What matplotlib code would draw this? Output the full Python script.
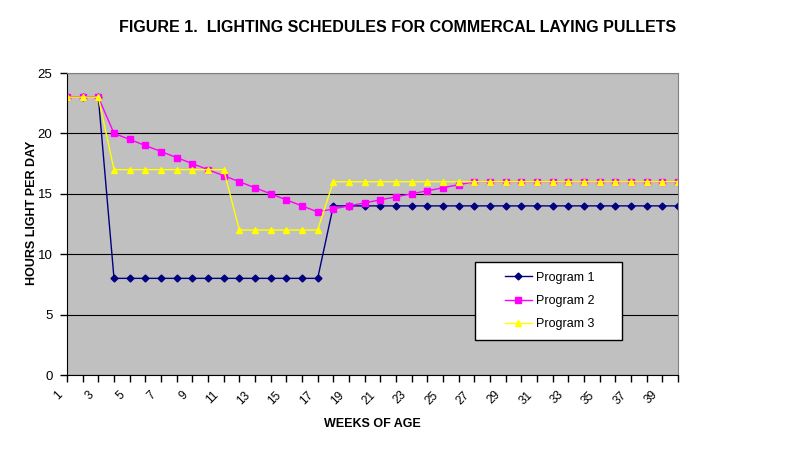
import matplotlib
matplotlib.use("Agg")
import matplotlib.pyplot as plt
import matplotlib.transforms as mtransforms
from matplotlib.patches import Rectangle

weeks = list(range(1, 41))
program1 = [23, 23, 23] + [8] * 14 + [14] * 23
program2 = [23, 23, 23, 20, 19.5, 19, 18.5, 18, 17.5, 17, 16.5, 16, 15.5, 15, 14.5, 14, 13.5,
            13.75, 14, 14.25, 14.5, 14.75, 15, 15.25, 15.5, 15.75] + [16] * 14
program3 = [23, 23, 23] + [17] * 8 + [12] * 6 + [16] * 23
tick_labels = [str(w) if w % 2 == 1 else '' for w in weeks]

plt.rcParams['font.family'] = ['Liberation Sans', 'DejaVu Sans']

fig = plt.figure(figsize=(7.96, 4.51), dpi=100)
ax = fig.add_axes([67/796, 1-375/451, 611/796, 302/451])
ax.set_facecolor('#C0C0C0')

ax.plot(weeks, program1, color='#000080', marker='D', markersize=3.5, lw=1, label='Program 1')
ax.plot(weeks, program2, color='#FF00FF', marker='s', markersize=4.5, lw=1, label='Program 2')
ax.plot(weeks, program3, color='#FFFF00', marker='^', markersize=5, lw=1, label='Program 3')

ax.set_xlim(1, 40)
ax.set_ylim(0, 25)
ax.set_yticks([0, 5, 10, 15, 20, 25])
ax.yaxis.grid(True, color='black', lw=0.8)
ax.set_axisbelow(True)
ax.set_xticks(weeks)
ax.tick_params(axis='x', direction='out', length=5, width=1, pad=5)
ax.tick_params(axis='y', direction='out', length=5, width=1, labelsize=9.5, pad=5.5)
ax.set_xticklabels(tick_labels, rotation=45, ha='right', va='top',
                   rotation_mode='anchor', fontsize=8.5)
offset = mtransforms.ScaledTranslation(-11/100, 0, fig.dpi_scale_trans)
for lbl in ax.get_xticklabels():
    lbl.set_transform(lbl.get_transform() + offset)
for s in ['top', 'right']:
    ax.spines[s].set_color('#808080')
for s in ['left', 'bottom']:
    ax.spines[s].set_color('black')

ax.set_ylabel('HOURS LIGHT PER DAY', fontsize=9, fontweight='bold')
ax.yaxis.set_label_coords(-0.048, 0.536)
ax.set_xlabel('WEEKS OF AGE', fontsize=9, fontweight='bold', labelpad=8)
fig.text(398/796, 1-28/451, 'FIGURE 1.  LIGHTING SCHEDULES FOR COMMERCAL LAYING PULLETS',
         ha='center', va='center', fontsize=11.5, fontweight='bold')

box = Rectangle((0.668, 0.116), 0.24, 0.258, transform=ax.transAxes, facecolor='white',
                edgecolor='black', lw=1, zorder=4)
ax.add_patch(box)
leg = ax.legend(loc='center', bbox_to_anchor=(0.668 + 0.12 + 0.002, 0.116 + 0.129),
                frameon=False, fontsize=9, borderpad=0, borderaxespad=0,
                labelspacing=0.9, handlelength=2.15, handletextpad=0.35)
leg.set_zorder(5)

fig.savefig('out.png', dpi=100)
